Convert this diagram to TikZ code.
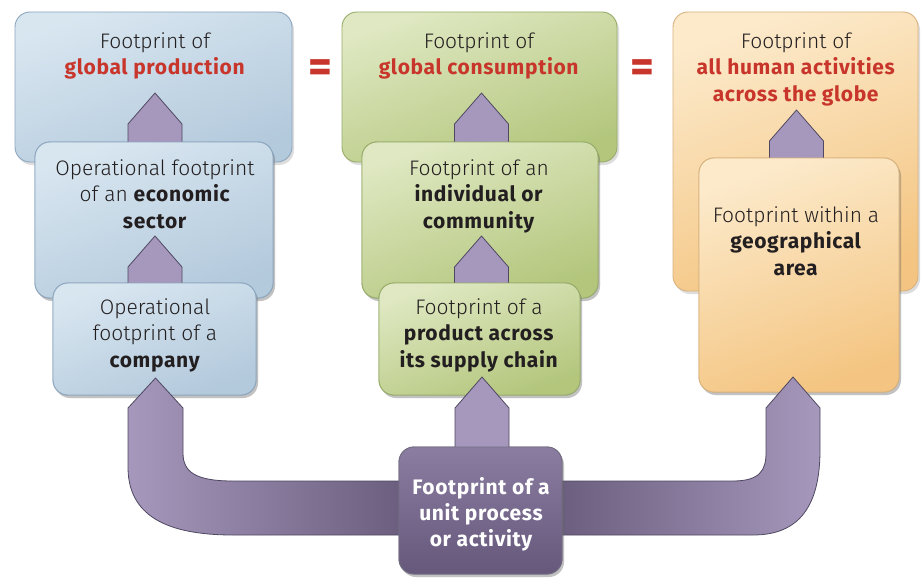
\documentclass[tikz,border=0pt]{standalone}
\usepackage{fontspec}
\IfFontExistsTF{Fira Sans Light}{\setmainfont{Fira Sans}[UprightFont={* Light},BoldFont={* Bold},BoldFeatures={LetterSpace=3}]}{\setmainfont{Fira Sans}[BoldFeatures={LetterSpace=3}]}
\usetikzlibrary{calc,shadows}
\definecolor{bluetop}{HTML}{D8E6F0}
\definecolor{bluebot}{HTML}{B3C9DC}
\definecolor{blueline}{HTML}{8CA6BE}
\definecolor{greentop}{HTML}{DFE8C2}
\definecolor{greenbot}{HTML}{B3C67C}
\definecolor{greenline}{HTML}{97AC6A}
\definecolor{orangetop}{HTML}{FCEACB}
\definecolor{orangebot}{HTML}{F4C582}
\definecolor{orangeline}{HTML}{D8B27E}
\definecolor{arrowfill}{HTML}{A698BC}
\definecolor{arrowline}{HTML}{4F4861}
\definecolor{arrowdark}{HTML}{6B5E7E}
\definecolor{unittop}{HTML}{8B7DA1}
\definecolor{unitbot}{HTML}{66587B}
\definecolor{redtext}{HTML}{C8352B}
\definecolor{darktext}{HTML}{231F20}
\tikzset{
  boxbase/.style={rounded corners=15pt, line width=0.9pt,
    drop shadow={shadow xshift=2pt,shadow yshift=-3pt,opacity=0.22,fill=black!60}},
  bluebox/.style={boxbase, draw=blueline, top color=bluetop, bottom color=bluebot, shading angle=20},
  greenbox/.style={boxbase, draw=greenline, top color=greentop, bottom color=greenbot, shading angle=20},
  orangebox/.style={boxbase, draw=orangeline, top color=orangetop, bottom color=orangebot, shading angle=20},
  unitbox/.style={boxbase, draw=arrowline!80, top color=unittop, bottom color=unitbot},
  fatarrow/.style={draw=arrowline, fill=arrowfill, line width=0.8pt, line join=round},
  bandshade/.style={draw=arrowline, line width=0.8pt, line join=round},
  txt/.style={align=center, font=\fontsize{21}{26.5}\selectfont, text=darktext, inner sep=0pt, anchor=north},
  unittxt/.style={align=center, font=\fontsize{21}{26}\selectfont\bfseries, text=white, inner sep=0pt, anchor=north},
  eqsign/.style={font=\fontsize{46}{46}\selectfont\bfseries, text=redtext, inner sep=0pt},
}
\newcommand\red[1]{\textcolor{redtext}{\textbf{#1}}}
\newcommand\smallarrow[2]{%
  \draw[fatarrow] ($(#1 |- #2.north)+(-27,2)$) -- ($(#1)+(-27,31)$) -- (#1) -- ($(#1)+(27,31)$) -- ($(#1 |- #2.north)+(27,2)$);}
\begin{document}
\begin{tikzpicture}[x=1pt,y=-1pt]
\useasboundingbox (0,0) rectangle (921,578);
\fill[white] (0,0) rectangle (921,578);

% ---------- left column ----------
\node[bluebox, minimum width=277, minimum height=150] (A) at (153.5,87) {};
\node[txt] (tA) at (155,32) {Footprint of\\\red{global production}};
\coordinate (pA) at (155,93);
\node[bluebox, minimum width=238, minimum height=156] (B) at (154,220) {};
\smallarrow{pA}{B}
\node[bluebox, minimum width=238, minimum height=156] (B) at (154,220) {};
\node[txt] (tB) at (155,159) {Operational footprint\\of an \textbf{economic}\\\textbf{sector}};
\coordinate (pB) at (155,236);
\node[bluebox, minimum width=203, minimum height=112] (C) at (154.5,339) {};
\smallarrow{pB}{C}
\node[bluebox, minimum width=203, minimum height=112] (C) at (154.5,339) {};
\node[txt] (tC) at (155,298) {Operational\\footprint of a\\\textbf{company}};

% ---------- middle column ----------
\node[greenbox, minimum width=275, minimum height=150] (D) at (479.5,87) {};
\node[txt] (tD) at (479,32) {Footprint of\\\red{global consumption}};
\coordinate (pD) at (481.5,93);
\node[greenbox, minimum width=236, minimum height=156] (E) at (480,220) {};
\smallarrow{pD}{E}
\node[greenbox, minimum width=236, minimum height=156] (E) at (480,220) {};
\node[txt] (tE) at (479,159) {Footprint of an\\\textbf{individual or}\\\textbf{community}};
\coordinate (pE) at (481.5,236);
\node[greenbox, minimum width=201, minimum height=112] (F) at (479.5,339) {};
\smallarrow{pE}{F}
\node[greenbox, minimum width=201, minimum height=112] (F) at (479.5,339) {};
\node[txt] (tF) at (479,298) {Footprint of a\\\textbf{product across}\\\textbf{its supply chain}};

% ---------- right column ----------
\node[orangebox, minimum width=245, minimum height=279] (G) at (795.5,151.5) {};
\node[txt] (tG) at (796,32) {Footprint of\\\red{all human activities}\\\red{across the globe}};
\coordinate (pG) at (796.5,110);
\node[orangebox, minimum width=200, minimum height=234] (H) at (799,275) {};
\smallarrow{pG}{H}
\node[orangebox, minimum width=200, minimum height=234] (H) at (799,275) {};
\node[txt] (tH) at (796,206) {Footprint within a\\\textbf{geographical}\\\textbf{area}};

% ---------- equals signs ----------
\node[eqsign] (eq1) at (320,71) {=};
\node[eqsign] (eq2) at (642,71) {=};

% ---------- bottom unit process ----------
\coordinate (I) at (480.5,510.5);
\coordinate (tL) at (155.5,378);
\coordinate (tM) at (482,377);
\coordinate (tR) at (793,377);
\coordinate (Iw) at (399,510.5);
\coordinate (Ie) at (562,510.5);
\shade[bandshade, left color=arrowfill, right color=arrowdark]
  ($(Iw)+(2,-29.5)$) -- ($(tL)+(77.5,103)$)
  .. controls ($(tL)+(40,103)$) and ($(tL)+(27.5,94)$) .. ($(tL)+(27.5,75)$)
  -- ($(tL)+(27.5,30)$) -- (tL) -- ($(tL)+(-27.5,30)$) -- ($(tL)+(-27.5,89)$)
  .. controls ($(tL)+(-27.5,137)$) and ($(tL)+(10,157)$) .. ($(tL)+(77.5,157)$)
  -- ($(Iw)+(2,24.5)$);
\shade[bandshade, left color=arrowdark, right color=arrowfill]
  ($(Ie)+(-2,-29.5)$) -- ($(tR)+(-60,104)$)
  .. controls ($(tR)+(-33,104)$) and ($(tR)+(-27,93)$) .. ($(tR)+(-27,76)$)
  -- ($(tR)+(-27,31)$) -- (tR) -- ($(tR)+(27,31)$) -- ($(tR)+(27,73)$)
  .. controls ($(tR)+(27,128)$) and ($(tR)+(7,158)$) .. ($(tR)+(-40,158)$)
  -- ($(Ie)+(-2,24.5)$);
\node[unitbox, minimum width=163, minimum height=127] (U) at (I) {};
\smallarrow{tM}{U}
\node[unitbox, minimum width=163, minimum height=127] (U) at (I) {};
\node[unittxt] (tU) at (481,477) {Footprint of a\\unit process\\or activity};
\end{tikzpicture}
\end{document}
